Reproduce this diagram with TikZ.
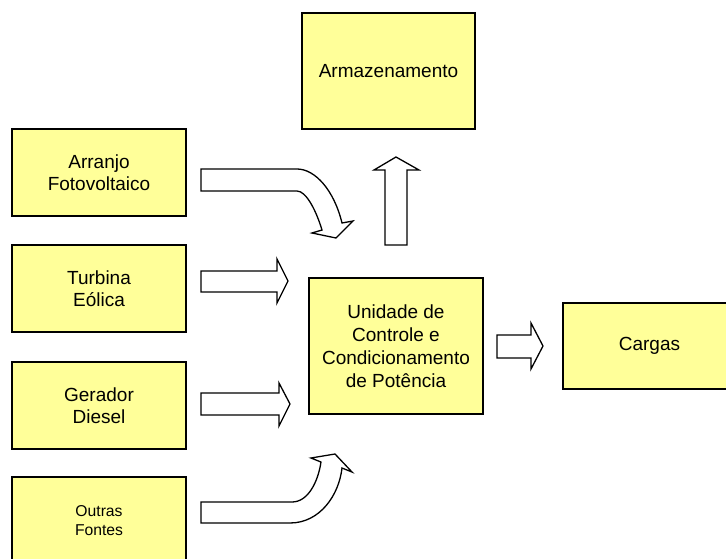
\documentclass[tikz,border=0pt]{standalone}
\usepackage{fontspec}
\setmainfont{Liberation Sans}
\definecolor{boxyellow}{RGB}{255,255,153}
\begin{document}
\begin{tikzpicture}[x=1pt,y=-1pt,
  blk/.style={draw=black,fill=boxyellow,line width=1.9pt,inner sep=0pt,
    minimum width=174pt,minimum height=87pt,align=center,
    font=\fontsize{19}{22.5}\selectfont},
  barrow/.style={draw=black,fill=white,line width=1.3pt,line join=miter}]
\useasboundingbox (0,0) rectangle (726,559);
\clip (0,0) rectangle (726,559);
\fill[white] (0,0) rectangle (726,559);
\node[blk] (arr) at (99,172.5) {Arranjo\\Fotovoltaico};
\node[blk] (tur) at (99,288.5) {Turbina\\Eólica};
\node[blk] (ger) at (99,405.5) {Gerador\\Diesel};
\node[blk,font=\fontsize{15.7}{19.3}\selectfont] (out) at (99,520.5) {Outras\\Fontes};
\node[blk,minimum width=173pt,minimum height=116pt] (arm) at (388.5,71) {Armazenamento};
\node[blk,minimum height=136pt,font=\fontsize{19}{23}\selectfont] (uni) at (396,346) {Unidade de\\Controle e\\Condicionamento\\de Potência};
\node[blk,minimum width=173pt,minimum height=86pt] (car) at (649.5,346) {Cargas};
% curved arrow from Arranjo
\draw[barrow] (201,169) -- (297,169) .. controls (315,169) and (334,190) .. (342,223)
  -- (353,221) -- (336,238) -- (312,233) -- (322,230)
  .. controls (316,210) and (306,191) .. (297,191) -- (201,191) -- cycle;
% straight arrow from Turbina
\draw[barrow] (201,271) -- (277,271) -- (277,259) -- (288,281) -- (277,303) -- (277,292) -- (201,292) -- cycle;
% straight arrow from Gerador
\draw[barrow] (201,393) -- (279,393) -- (279,383) -- (290,404) -- (279,426) -- (279,415) -- (201,415) -- cycle;
% curved arrow from Outras
\draw[barrow] (201,502) -- (292,502) .. controls (308,502) and (318,482) .. (321,462)
  -- (311,458) -- (335,454) -- (352,472) -- (342,468)
  .. controls (339,495) and (320,523) .. (290,523) -- (201,523) -- cycle;
% up arrow to Armazenamento
\draw[barrow] (385,245) -- (385,170) -- (374,170) -- (396,157) -- (419,170) -- (407,170) -- (407,245) -- cycle;
% arrow to Cargas
\draw[barrow] (497,335) -- (531,335) -- (531,323) -- (543,346) -- (531,369) -- (531,358) -- (497,358) -- cycle;
\end{tikzpicture}
\end{document}
